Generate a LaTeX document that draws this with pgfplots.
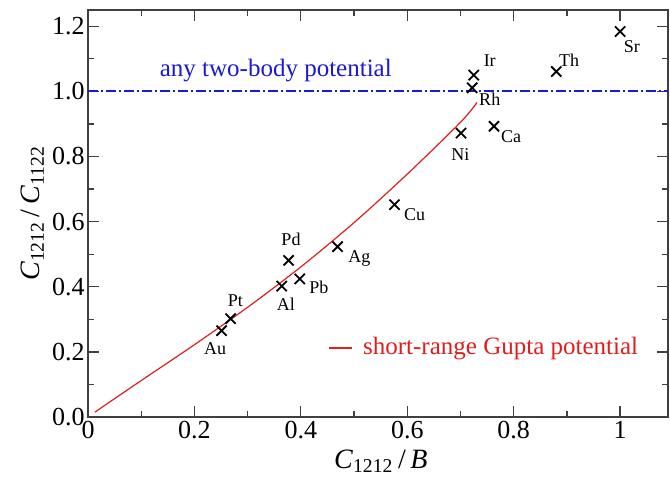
\documentclass[border=0pt]{standalone}
\usepackage{pgfplots}
\pgfplotsset{compat=1.18}
\usepackage{fontspec}
\setmainfont{Liberation Serif}

\definecolor{gupta}{RGB}{225,30,30}
\definecolor{twobody}{RGB}{25,25,215}

\begin{document}
\begin{tikzpicture}
\begin{axis}[
    name=main,
    scale only axis,
    width=290pt, height=203.5pt,
    xmin=0, xmax=1.09,
    ymin=0, ymax=1.25,
    xtick={0,0.2,0.4,0.6,0.8,1},
    ytick={0,0.2,0.4,0.6,0.8,1.0,1.2},
    minor tick num=1,
    major tick length=5.5pt,
    minor tick length=3pt,
    axis line style={black!75, line width=0.65pt},
    every tick/.style={black!75, line width=0.65pt},
    /pgf/number format/assume math mode=true,
    yticklabel style={xshift=1.8pt, /pgf/number format/.cd, fixed, fixed zerofill, precision=1},
    xticklabel style={yshift=1.2pt},
    tick label style={font=\fontsize{13}{15}\selectfont},
    label style={font=\fontsize{14}{16}\selectfont},
    xlabel={\textit{C}\textsubscript{1212}\,/\,\textit{B}},
    ylabel={\textit{C}\textsubscript{1212}\,/\,\textit{C}\textsubscript{1122}},
    xlabel style={at={(axis description cs:0.505,-0.108)}, anchor=center},
    ylabel style={at={(axis description cs:-0.096,0.5)}, anchor=center},
    legend style={at={(0.404,0.17)}, anchor=west, draw=none, fill=none,
        text=gupta, font=\fontsize{12.5}{14}\selectfont,
        /tikz/every odd column/.append style={column sep=3pt}},
    legend image code/.code={\draw[#1, gupta, line width=0.7pt] (0cm,0cm) -- (0.405cm,0cm);},
]

% short-range Gupta potential
\addplot[gupta, line width=0.6pt, smooth] coordinates {
    (0.013,0.015) (0.1,0.112) (0.2,0.222) (0.3,0.337) (0.4,0.461)
    (0.5,0.597) (0.6,0.746) (0.7,0.905) (0.731,0.966)
};
\addlegendentry{short-range Gupta potential}

% any two-body potential
\addplot[twobody, line width=1pt, dash pattern=on 5pt off 1.5pt on 1pt off 1.5pt, forget plot]
    coordinates {(0,1) (1.09,1)};

% elements
\addplot[only marks, mark=x, mark size=3.6pt, line width=0.9pt, black, forget plot] coordinates {
    (0.251,0.265) (0.268,0.302) (0.364,0.402) (0.377,0.481) (0.398,0.424)
    (0.469,0.523) (0.576,0.652) (0.701,0.872) (0.763,0.893) (0.722,1.011)
    (0.725,1.050) (0.880,1.061) (1.000,1.184)
};

\node[twobody, font=\fontsize{12.5}{14}\selectfont] at (axis cs:0.353,1.065) {any two-body potential};

\begin{scope}[every node/.style={font=\fontsize{9}{10}\selectfont}]
\node at (axis cs:0.239,0.209) {Au};
\node at (axis cs:0.277,0.356) {Pt};
\node at (axis cs:0.372,0.345) {Al};
\node at (axis cs:0.3815,0.546) {Pd};
\node at (axis cs:0.434,0.399) {Pb};
\node at (axis cs:0.510,0.487) {Ag};
\node at (axis cs:0.614,0.622) {Cu};
\node at (axis cs:0.700,0.805) {Ni};
\node at (axis cs:0.795,0.861) {Ca};
\node at (axis cs:0.755,0.975) {Rh};
\node at (axis cs:0.755,1.096) {Ir};
\node at (axis cs:0.904,1.096) {Th};
\node at (axis cs:1.022,1.137) {Sr};
\end{scope}

\end{axis}
\pgfresetboundingbox
\path[use as bounding box] (main.south west) ++(-44pt,-34.5pt) rectangle ([xshift=1pt,yshift=5pt]main.north east);
\end{tikzpicture}
\end{document}
